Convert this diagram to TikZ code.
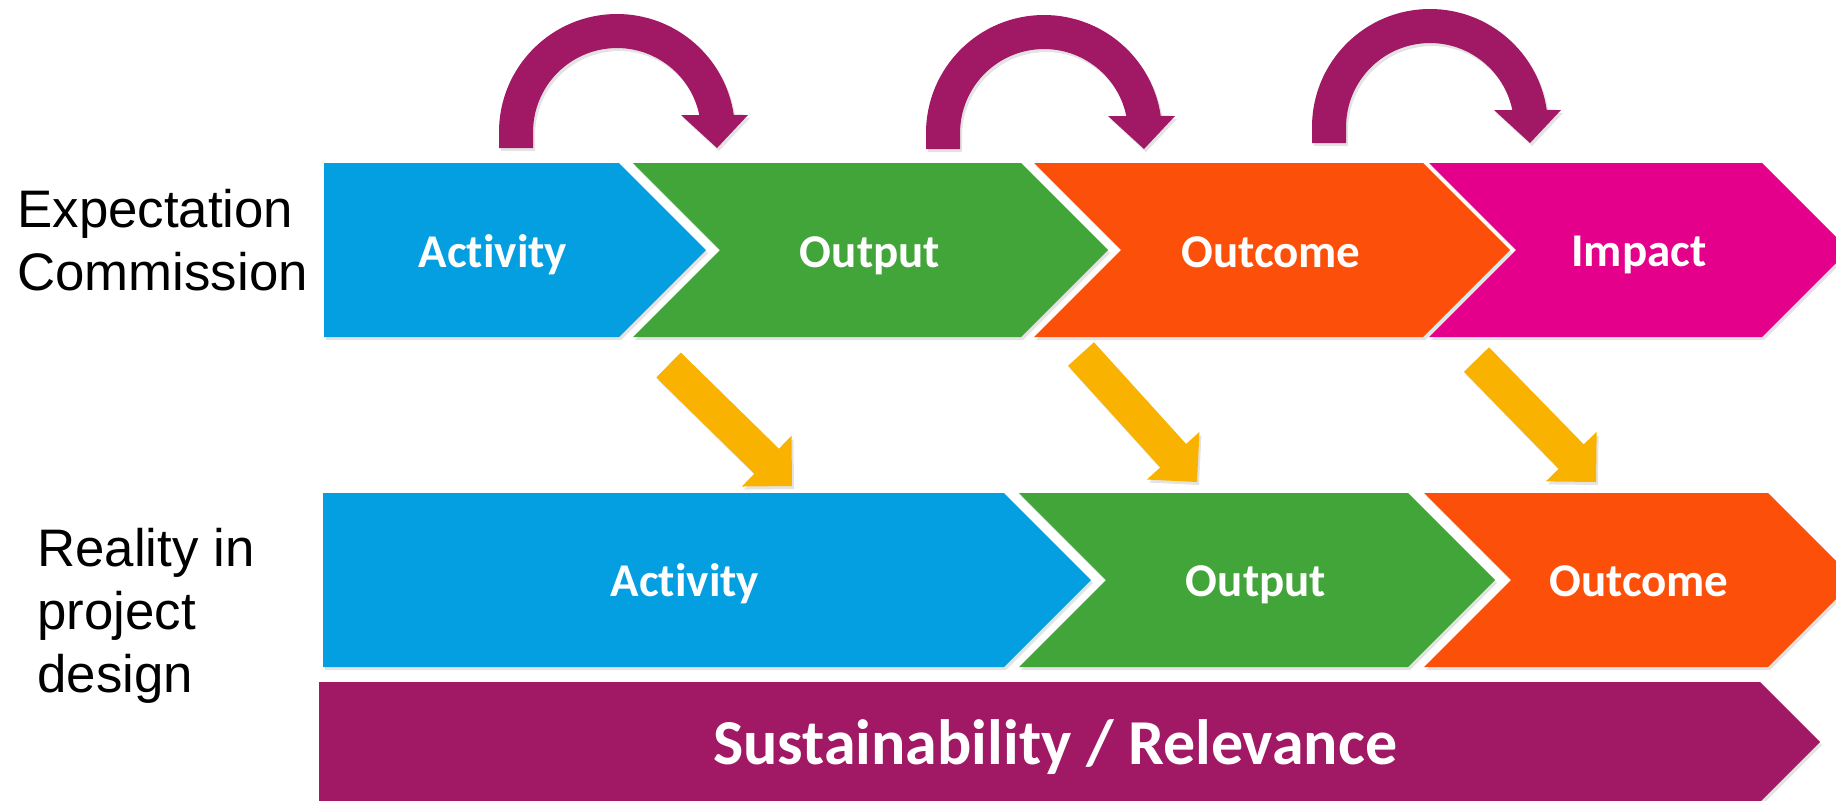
\documentclass[tikz,border=0pt]{standalone}
\usepackage{fontspec}
\setmainfont{Liberation Sans}
\newfontfamily\calibri[Ligatures=NoCommon]{Carlito}
\usetikzlibrary{calc, shadows}

\definecolor{actblue}{HTML}{049FE1}
\definecolor{outgreen}{HTML}{41A539}
\definecolor{ocorange}{HTML}{FC500A}
\definecolor{impmagenta}{HTML}{E4008A}
\definecolor{sustpurple}{HTML}{A11865}
\definecolor{dropyellow}{HTML}{F9B200}

\tikzset{
    soft/.style={drop shadow={opacity=0.22, shadow xshift=1pt, shadow yshift=-1.5pt}},
    chevtext/.style={text=white, inner sep=0pt, anchor=base,
        font=\calibri\bfseries\fontsize{23.5}{28}\selectfont},
    side/.style={anchor=north west, inner sep=0pt, align=left,
        font=\fontsize{26.4}{31.5}\selectfont},
    hop/.pic={
        \fill[sustpurple, soft] (-118,16) -- (-118,0)
            arc[start angle=180, end angle=351.7, radius=118]
            -- (131,-17) -- (100,16) -- (64,-17) -- (82.3,-17)
            arc[start angle=348.3, end angle=180, radius=84]
            -- (-84,16) -- cycle;
    }
}

% left x, straight end, middle y, notch depth, colour
\newcommand{\chevron}[5]{%
    \fill[#5, soft] (#1,#3-87) -- (#2,#3-87) -- (#2+87,#3) -- (#2,#3+87)
        -- (#1,#3+87) -- (#1+#4,#3) -- cycle;
}
% tail, tip
\newcommand{\dropArrow}[2]{%
    \coordinate (hb) at ($(#2)!17.75pt!(#1)$);
    \fill[dropyellow, soft] ($(#1)!8.75pt!90:(#2)$) -- ($(hb)!8.75pt!90:(#2)$)
        -- ($(hb)!17.75pt!90:(#2)$) -- (#2) -- ($(hb)!17.75pt!-90:(#2)$)
        -- ($(hb)!8.75pt!-90:(#2)$) -- ($(#1)!8.75pt!-90:(#2)$) -- cycle;
}

\begin{document}
\begin{tikzpicture}[x=0.5pt, y=-0.5pt]
    \useasboundingbox (0,0) rectangle (1836,800);
    \clip (0,0) rectangle (1836,800);

    % expectation row
    \chevron{324}{619}{250}{0}{actblue}
    \chevron{633}{1021}{250}{87}{outgreen}
    \chevron{1034}{1423}{250}{87}{ocorange}
    \chevron{1429}{1762}{250}{87}{impmagenta}

    % reality row
    \chevron{323}{1004}{580}{0}{actblue}
    \chevron{1019}{1408}{580}{87}{outgreen}
    \chevron{1424}{1768}{580}{87}{ocorange}
    \fill[sustpurple, soft] (319,682) -- (1760,682) -- (1820,742) -- (1760,802)
        -- (319,802) -- cycle;

    % hops
    \pic at (617,132) {hop};
    \pic at (1044,133) {hop};
    \pic at (1430,127) {hop};

    % shifts down
    \coordinate (t1) at (668.5,365);
    \coordinate (h1) at (792,486);
    \coordinate (t2) at (1081,354);
    \coordinate (h2) at (1197,482);
    \coordinate (t3) at (1476.5,359.5);
    \coordinate (h3) at (1596,482);
    \dropArrow{t1}{h1}
    \dropArrow{t2}{h2}
    \dropArrow{t3}{h3}

    \node[side] (expect) at (17,189) {Expectation\\Commission};
    \node[side] (reality) at (37,528) {Reality in\\project\\design};

    \node[chevtext] (act1) at (493,267) {Activity};
    \node[chevtext] (out1) at (870,267) {Output};
    \node[chevtext] (oc1) at (1271,267) {Outcome};
    \node[chevtext] (imp) at (1639,266) {Impact};
    \node[chevtext] (act2) at (685,596) {Activity};
    \node[chevtext] (out2) at (1256,596) {Output};
    \node[chevtext] (oc2) at (1639,596) {Outcome};
    \node[chevtext, font=\calibri\bfseries\fontsize{32}{38}\selectfont] (sust)
        at (1055,764) {Sustainability / Relevance};
\end{tikzpicture}
\end{document}
